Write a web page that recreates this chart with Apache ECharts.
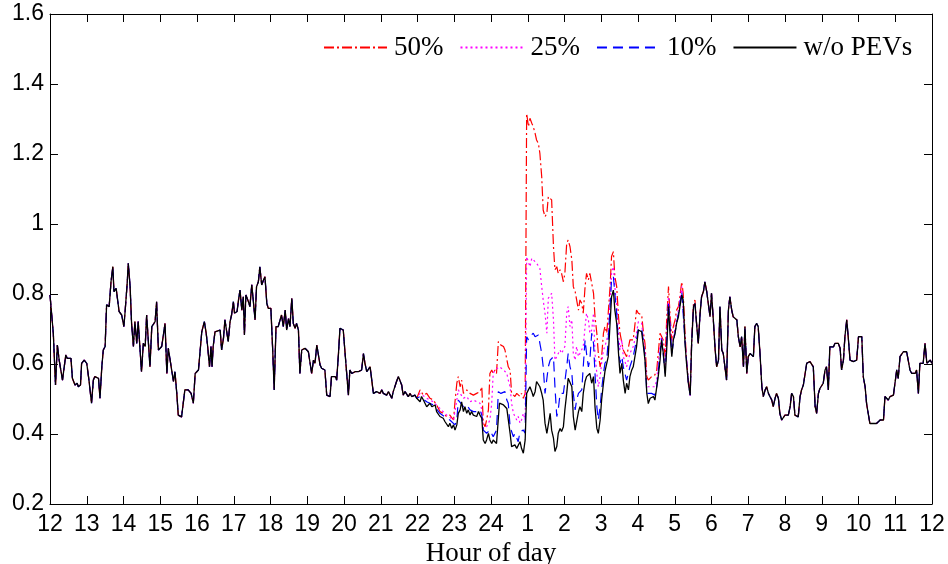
<!DOCTYPE html>
<html>
<head>
<meta charset="utf-8">
<script src="https://cdn.jsdelivr.net/npm/echarts@6/dist/echarts.min.js"></script>
<style>
html,body{margin:0;padding:0;background:#fff;}
#chart{width:948px;height:564px;}
</style>
</head>
<body>
<div id="chart"></div>
<script>
// Hour tick labels (x axis runs 0..24 hours starting at 12 noon)
var hourLabels = ['12','13','14','15','16','17','18','19','20','21','22','23','24','1','2','3','4','5','6','7','8','9','10','11','12'];
var seriesNames = ['50%','25%','10%','w/o PEVs'];

// Base load without PEVs (hours after 12:00, value)
var baseTimes = [0.00,0.09,0.15,0.20,0.25,0.30,0.34,0.38,0.43,0.47,0.52,0.57,0.61,0.68,0.74,0.77,0.83,0.86,0.93,1.00,1.06,1.13,1.18,1.22,1.32,1.36,1.41,1.45,1.50,1.54,1.61,1.66,1.71,1.74,1.80,1.84,1.88,1.95,2.01,2.04,2.10,2.13,2.18,2.22,2.27,2.31,2.36,2.40,2.45,2.49,2.54,2.59,2.63,2.68,2.72,2.77,2.81,2.86,2.90,2.95,2.99,3.04,3.08,3.13,3.18,3.22,3.27,3.31,3.36,3.40,3.45,3.49,3.58,3.63,3.67,3.72,3.76,3.84,3.90,3.95,3.99,4.04,4.08,4.13,4.20,4.25,4.29,4.34,4.38,4.41,4.44,4.49,4.54,4.63,4.67,4.72,4.76,4.81,4.85,4.90,4.94,4.99,5.02,5.05,5.09,5.13,5.17,5.22,5.26,5.29,5.33,5.40,5.44,5.49,5.53,5.58,5.62,5.67,5.71,5.76,5.81,5.85,5.90,5.94,6.01,6.06,6.10,6.15,6.21,6.26,6.30,6.35,6.40,6.44,6.49,6.53,6.58,6.62,6.67,6.71,6.76,6.80,6.85,6.89,6.94,6.98,7.03,7.08,7.12,7.17,7.21,7.26,7.30,7.35,7.39,7.44,7.48,7.53,7.57,7.62,7.66,7.71,7.76,7.80,7.85,7.89,
7.98,8.03,8.07,8.12,8.16,8.21,8.30,8.39,8.48,8.53,8.57,8.62,8.66,8.71,8.75,8.80,8.89,8.98,9.03,9.07,9.12,9.16,9.21,9.25,9.30,9.34,9.39,9.43,9.48,9.52,9.57,9.61,9.66,9.71,9.75,9.80,9.84,9.89,9.93,9.98,10.02,10.07,10.11,10.16,10.20,10.25,10.29,10.34,10.39,10.43,10.48,10.52,10.57,10.61,10.66,10.70,10.75,10.79,10.84,10.88,10.93,10.98,11.02,11.07,11.11,11.16,11.20,11.25,11.29,11.34,11.38,11.43,11.47,11.52,11.56,11.61,11.66,11.70,11.75,11.79,11.84,11.88,11.93,11.97,12.02,12.06,12.11,12.15,12.20,12.23,12.27,12.34,12.38,12.43,12.47,12.52,12.56,12.61,12.65,12.70,12.74,12.79,12.83,12.88,12.93,12.97,13.02,13.06,13.11,13.15,13.20,13.24,13.29,13.33,13.38,13.42,13.47,13.52,13.56,13.61,13.65,13.70,13.74,13.79,13.83,13.88,13.92,13.97,14.01,14.06,14.10,14.15,14.20,14.24,14.29,14.33,14.38,14.42,14.47,14.51,14.56,14.60,14.65,14.69,14.74,14.79,14.83,14.88,14.92,14.97,15.01,15.06,15.10,15.15,15.19,15.24,15.28,15.33,15.37,15.42,15.47,15.51,15.56,15.60,15.65,15.69,15.74,15.78,15.83,15.87,
15.96,16.01,16.05,16.10,16.15,16.19,16.24,16.28,16.33,16.37,16.42,16.46,16.51,16.55,16.60,16.64,16.69,16.74,16.78,16.83,16.87,16.92,16.96,17.01,17.05,17.10,17.14,17.19,17.23,17.28,17.32,17.37,17.42,17.46,17.51,17.55,17.60,17.64,17.69,17.73,17.78,17.82,17.87,17.91,17.96,18.00,18.05,18.10,18.14,18.19,18.23,18.28,18.32,18.37,18.41,18.46,18.50,18.55,18.59,18.64,18.69,18.73,18.78,18.82,18.87,18.91,18.96,19.00,19.05,19.09,19.14,19.18,19.23,19.27,19.32,19.37,19.41,19.46,19.50,19.55,19.59,19.64,19.68,19.73,19.77,19.82,19.86,19.91,19.95,20.00,20.05,20.09,20.14,20.18,20.23,20.27,20.32,20.36,20.41,20.45,20.50,20.54,20.59,20.64,20.68,20.73,20.77,20.82,20.86,20.91,20.95,21.00,21.04,21.09,21.13,21.18,21.22,21.27,21.32,21.36,21.41,21.45,21.50,21.54,21.59,21.63,21.68,21.72,21.77,21.81,21.86,21.91,21.95,22.00,22.04,22.09,22.13,22.18,22.22,22.27,22.31,22.36,22.40,22.45,22.49,22.54,22.59,22.63,22.68,22.72,22.77,22.81,22.86,22.90,22.95,22.99,23.04,23.08,23.13,23.18,23.22,23.27,23.31,23.36,23.40,23.45,23.49,23.54,23.58,23.63,23.67,23.72,23.76,23.81,23.86,23.90,23.95,24.00];
var baseLoad = [0.797,0.688,0.540,0.654,0.611,0.616,0.554,0.550,0.626,0.616,0.611,0.616,0.559,0.540,0.545,0.535,0.540,0.602,0.611,0.602,0.554,0.488,0.554,0.564,0.559,0.502,0.592,0.640,0.650,0.769,0.764,0.835,0.878,0.807,0.816,0.821,0.750,0.740,0.707,0.745,0.830,0.888,0.821,0.716,0.650,0.721,0.659,0.721,0.721,0.578,0.659,0.650,0.740,0.735,0.592,0.707,0.707,0.721,0.778,0.640,0.635,0.650,0.650,0.716,0.573,0.645,0.650,0.583,0.550,0.578,0.516,0.454,0.449,0.454,0.526,0.526,0.526,0.516,0.488,0.573,0.573,0.583,0.588,0.692,0.721,0.688,0.650,0.592,0.650,0.592,0.650,0.692,0.697,0.697,0.640,0.673,0.726,0.730,0.664,0.721,0.740,0.778,0.745,0.745,0.750,0.783,0.811,0.754,0.792,0.683,0.797,0.778,0.764,0.826,0.783,0.726,0.821,0.835,0.878,0.826,0.840,0.849,0.773,0.759,0.759,0.640,0.526,0.707,0.707,0.711,0.740,0.707,0.754,0.697,0.730,0.707,0.788,0.716,0.702,0.716,0.697,0.573,0.640,0.645,0.645,0.640,0.635,0.640,0.573,0.611,0.602,0.654,0.650,0.597,0.588,0.592,0.583,0.511,0.511,0.507,0.564,0.569,0.564,0.554,0.630,0.702,
0.697,0.630,0.626,0.511,0.583,0.573,0.578,0.578,0.583,0.630,0.602,0.578,0.578,0.592,0.559,0.516,0.521,0.516,0.526,0.516,0.521,0.511,0.521,0.516,0.502,0.521,0.516,0.550,0.564,0.559,0.540,0.511,0.521,0.516,0.507,0.516,0.507,0.502,0.511,0.502,0.507,0.492,0.507,0.497,0.497,0.478,0.483,0.488,0.478,0.473,0.483,0.464,0.469,0.450,0.454,0.445,0.435,0.435,0.421,0.431,0.416,0.426,0.411,0.426,0.459,0.469,0.492,0.464,0.478,0.459,0.469,0.454,0.464,0.454,0.459,0.450,0.464,0.454,0.445,0.383,0.373,0.383,0.402,0.383,0.373,0.383,0.378,0.373,0.378,0.488,0.483,0.483,0.478,0.473,0.469,0.402,0.364,0.359,0.369,0.359,0.354,0.378,0.359,0.345,0.383,0.516,0.516,0.535,0.521,0.507,0.521,0.550,0.550,0.535,0.516,0.497,0.431,0.402,0.402,0.459,0.411,0.388,0.350,0.364,0.402,0.416,0.407,0.421,0.469,0.516,0.559,0.564,0.535,0.450,0.411,0.411,0.464,0.478,0.464,0.516,0.550,0.564,0.559,0.573,0.545,0.564,0.478,0.416,0.402,0.440,0.497,0.545,0.578,0.573,0.621,0.716,0.792,0.811,0.754,0.716,0.630,0.573,0.602,0.554,0.516,0.545,0.526,0.564,0.583,0.592,
0.649,0.697,0.692,0.692,0.649,0.611,0.516,0.487,0.502,0.497,0.507,0.497,0.502,0.564,0.611,0.668,0.630,0.564,0.640,0.764,0.688,0.621,0.668,0.688,0.716,0.735,0.764,0.797,0.783,0.659,0.602,0.545,0.511,0.659,0.764,0.773,0.707,0.659,0.745,0.792,0.807,0.835,0.807,0.802,0.735,0.802,0.726,0.640,0.592,0.611,0.764,0.640,0.630,0.635,0.554,0.754,0.792,0.754,0.735,0.740,0.726,0.678,0.649,0.678,0.592,0.707,0.573,0.621,0.630,0.635,0.621,0.707,0.716,0.707,0.630,0.535,0.507,0.526,0.535,0.516,0.507,0.497,0.478,0.502,0.516,0.502,0.459,0.440,0.435,0.454,0.449,0.454,0.478,0.516,0.507,0.454,0.459,0.449,0.507,0.526,0.540,0.535,0.602,0.602,0.607,0.607,0.592,0.478,0.459,0.516,0.530,0.526,0.545,0.583,0.592,0.526,0.649,0.654,0.649,0.659,0.664,0.659,0.645,0.583,0.611,0.678,0.726,0.678,0.611,0.611,0.607,0.602,0.611,0.678,0.673,0.678,0.564,0.535,0.487,0.487,0.430,0.435,0.430,0.435,0.430,0.435,0.440,0.435,0.440,0.507,0.507,0.497,0.507,0.507,0.511,0.516,0.583,0.559,0.621,0.616,0.635,0.640,0.635,0.640,0.583,0.573,0.578,0.573,0.583,0.516,0.602,0.597,0.602,0.659,0.602,0.607,0.611,0.602];

// With PEVs: values differ from the base load only between ~22:00 and ~05:30
var pev50Times = [10.07,10.16,10.25,10.34,10.43,10.52,10.61,10.70,10.79,10.88,10.98,11.02,11.07,11.11,11.16,11.20,11.25,11.34,11.43,11.52,11.61,11.70,11.75,11.79,11.84,11.88,11.93,11.97,12.02,12.06,12.11,12.15,12.20,12.23,12.27,12.34,12.38,12.43,12.47,12.52,12.56,12.61,12.65,12.70,12.74,12.79,12.83,12.88,12.93,12.97,13.02,13.06,13.11,13.15,13.20,13.24,13.29,13.33,13.38,13.42,13.47,13.52,13.56,13.61,13.65,13.70,13.74,13.79,13.83,13.88,13.92,13.97,14.01,14.06,14.10,14.15,14.20,14.24,14.29,14.33,14.38,14.42,14.47,14.51,14.56,14.60,14.65,14.69,14.74,14.79,14.83,14.88,14.92,14.97,15.01,15.06,15.10,15.15,15.19,15.24,15.28,15.33,15.37,15.42,15.47,15.51,15.56,15.60,15.69,15.78,15.87,15.96,16.01,16.05,16.10,16.15,16.19,16.24,16.28,16.33,16.37,16.42,16.46,16.51,16.55,16.60,16.64,16.69,16.74,16.78,16.83,16.87,16.92,16.96,17.01,17.05,17.10,17.14,17.19,17.23,17.28,17.32,17.37,17.42,17.46,17.51,17.55];
var pev50Load = [0.526,0.511,0.516,0.502,0.497,0.483,0.464,0.459,0.450,0.454,0.440,0.492,0.545,0.564,0.535,0.554,0.516,0.526,0.516,0.511,0.516,0.521,0.535,0.431,0.421,0.440,0.469,0.573,0.583,0.573,0.583,0.573,0.664,0.669,0.654,0.650,0.640,0.645,0.592,0.583,0.516,0.516,0.507,0.516,0.511,0.507,0.516,0.502,0.516,1.316,1.278,1.302,1.288,1.278,1.259,1.240,1.230,1.202,1.135,1.040,1.021,1.031,1.078,1.083,1.069,0.935,0.869,0.878,0.859,0.869,0.859,0.835,0.859,0.945,0.954,0.935,0.897,0.821,0.807,0.783,0.754,0.783,0.773,0.745,0.821,0.859,0.840,0.859,0.859,0.802,0.735,0.688,0.630,0.592,0.621,0.688,0.707,0.688,0.745,0.821,0.907,0.921,0.850,0.821,0.735,0.688,0.688,0.640,0.621,0.669,0.669,0.754,0.745,0.749,0.740,0.688,0.659,0.564,0.554,0.559,0.564,0.559,0.569,0.583,0.630,0.688,0.692,0.668,0.621,0.726,0.821,0.745,0.668,0.707,0.726,0.754,0.764,0.792,0.835,0.802,0.688,0.611,0.554,0.516,0.668,0.773,0.783];

var pev25Times = [10.07,10.25,10.43,10.61,10.79,10.98,11.02,11.07,11.11,11.16,11.25,11.34,11.43,11.52,11.70,11.75,11.79,11.88,11.97,12.02,12.06,12.11,12.15,12.23,12.34,12.43,12.47,12.52,12.56,12.61,12.65,12.70,12.74,12.79,12.83,12.88,12.93,12.97,13.02,13.06,13.11,13.15,13.24,13.29,13.33,13.38,13.42,13.47,13.52,13.56,13.61,13.65,13.70,13.74,13.79,13.83,13.88,13.92,13.97,14.01,14.06,14.10,14.15,14.20,14.24,14.29,14.33,14.38,14.42,14.51,14.56,14.60,14.65,14.69,14.74,14.79,14.83,14.88,14.92,14.97,15.01,15.06,15.10,15.15,15.19,15.24,15.28,15.33,15.37,15.42,15.47,15.51,15.56,15.60,15.69,15.78,15.87,15.96,16.01,16.10,16.15,16.19,16.24,16.28,16.37,16.46,16.51,16.55,16.60,16.64,16.74,16.78,16.83,16.92,17.01,17.10,17.19,17.28,17.37,17.42,17.46,17.51,17.55];
var pev25Load = [0.516,0.502,0.492,0.473,0.454,0.440,0.440,0.497,0.526,0.516,0.502,0.507,0.492,0.497,0.488,0.469,0.416,0.421,0.440,0.488,0.573,0.583,0.583,0.592,0.583,0.573,0.554,0.535,0.488,0.459,0.454,0.440,0.450,0.431,0.440,0.459,0.440,0.907,0.907,0.878,0.902,0.897,0.888,0.892,0.873,0.821,0.783,0.745,0.688,0.788,0.792,0.802,0.726,0.611,0.621,0.630,0.640,0.630,0.630,0.650,0.745,0.764,0.707,0.726,0.630,0.611,0.650,0.621,0.630,0.650,0.707,0.745,0.726,0.688,0.697,0.745,0.630,0.573,0.535,0.564,0.602,0.640,0.650,0.669,0.688,0.783,0.859,0.878,0.821,0.764,0.688,0.640,0.669,0.621,0.592,0.630,0.650,0.688,0.721,0.716,0.668,0.630,0.535,0.530,0.535,0.535,0.554,0.602,0.649,0.678,0.592,0.688,0.792,0.640,0.707,0.754,0.821,0.668,0.547,0.509,0.659,0.764,0.773];

var pev10Times = [10.07,10.25,10.43,10.61,10.79,10.88,11.02,11.07,11.11,11.16,11.25,11.34,11.43,11.52,11.61,11.70,11.75,11.79,11.88,11.97,12.06,12.15,12.20,12.27,12.38,12.43,12.47,12.52,12.56,12.61,12.65,12.70,12.74,12.79,12.88,12.93,12.97,13.02,13.06,13.15,13.20,13.24,13.29,13.33,13.38,13.42,13.47,13.52,13.56,13.61,13.65,13.70,13.74,13.79,13.83,13.88,13.92,13.97,14.06,14.10,14.15,14.20,14.24,14.29,14.33,14.38,14.47,14.51,14.56,14.60,14.65,14.69,14.74,14.79,14.83,14.88,14.92,14.97,15.01,15.06,15.10,15.15,15.19,15.24,15.28,15.33,15.37,15.42,15.47,15.51,15.56,15.60,15.69,15.78,15.87,15.96,16.01,16.10,16.15,16.19,16.24,16.28,16.37,16.46,16.51,16.55,16.60,16.64,16.74,16.78,16.83,16.92,17.01,17.10,17.19,17.28,17.37,17.42,17.46,17.51,17.55];
var pev10Load = [0.507,0.492,0.483,0.459,0.445,0.440,0.426,0.440,0.497,0.502,0.478,0.483,0.469,0.464,0.464,0.469,0.454,0.411,0.402,0.411,0.392,0.411,0.521,0.516,0.521,0.497,0.488,0.421,0.407,0.392,0.402,0.402,0.378,0.407,0.411,0.402,0.678,0.669,0.678,0.688,0.678,0.673,0.683,0.659,0.630,0.592,0.516,0.516,0.592,0.611,0.616,0.621,0.535,0.450,0.469,0.516,0.516,0.516,0.592,0.630,0.592,0.573,0.516,0.469,0.497,0.516,0.526,0.592,0.669,0.630,0.592,0.611,0.688,0.659,0.573,0.478,0.440,0.478,0.526,0.573,0.602,0.611,0.669,0.764,0.840,0.850,0.802,0.745,0.650,0.602,0.621,0.592,0.554,0.592,0.621,0.669,0.702,0.702,0.659,0.621,0.516,0.511,0.516,0.511,0.535,0.578,0.630,0.673,0.573,0.659,0.778,0.630,0.692,0.745,0.807,0.664,0.545,0.511,0.659,0.764,0.773];

// Build [x, y] pairs for the library
function pairs(ts, vs) { return ts.map(function (t, i) { return [t, vs[i]]; }); }
function withBase(ts, vs) {
  var lo = ts[0], hi = ts[ts.length - 1];
  var out = [];
  baseTimes.forEach(function (t, i) { if (t < lo - 0.005) out.push([t, baseLoad[i]]); });
  out = out.concat(pairs(ts, vs));
  baseTimes.forEach(function (t, i) { if (t > hi + 0.005) out.push([t, baseLoad[i]]); });
  return out;
}

var tickFont = "'Liberation Sans',Arial,Helvetica,sans-serif";
var serifFont = "'Liberation Serif','Times New Roman',serif";

var chart = echarts.init(document.getElementById('chart'), null, {renderer: 'canvas'});

function axisCommon() {
  return {
    axisLine: {show: true, onZero: false, lineStyle: {color: '#000', width: 1}},
    axisTick: {show: true, inside: true, length: 8, lineStyle: {color: '#000', width: 1}},
    splitLine: {show: false}
  };
}

var option = {
  animation: false,
  backgroundColor: '#fff',
  grid: {left: 50, right: 16, top: 14, bottom: 60, containLabel: false, outerBoundsMode: 'none'},
  legend: {
    data: seriesNames,
    left: 318, top: 29,
    itemWidth: 63, itemHeight: 14, itemGap: 16,
    itemStyle: {opacity: 0, borderWidth: 0},
    textStyle: {fontFamily: serifFont, fontSize: 27, color: '#000', padding: [0, 0, 0, 2]}
  },
  xAxis: [
    Object.assign(axisCommon(), {
      type: 'value', min: 0, max: 24, interval: 1, position: 'bottom',
      name: 'Hour of day', nameLocation: 'middle', nameGap: 31,
      nameTextStyle: {fontFamily: serifFont, fontSize: 27, color: '#000'},
      axisLabel: {
        margin: 9, fontFamily: tickFont, fontSize: 23, color: '#000',
        formatter: function (v) { return hourLabels[Math.round(v)]; }
      }
    }),
    Object.assign(axisCommon(), {
      type: 'value', min: 0, max: 24, interval: 1, position: 'top',
      axisLabel: {show: false}
    })
  ],
  yAxis: [
    Object.assign(axisCommon(), {
      type: 'value', min: 0.2, max: 1.6, interval: 0.2, position: 'left',
      axisLabel: {
        margin: 6, fontFamily: tickFont, fontSize: 23, color: '#000',
        formatter: function (v) { return String(+v.toFixed(1)); }
      }
    }),
    Object.assign(axisCommon(), {
      type: 'value', min: 0.2, max: 1.6, interval: 0.2, position: 'right',
      axisLabel: {show: false}
    })
  ],
  series: [
    {name: seriesNames[0], type: 'line', symbol: 'none', showSymbol: false, xAxisIndex: 0, yAxisIndex: 0,
     data: withBase(pev50Times, pev50Load), color: '#ff0000',
     lineStyle: {color: '#ff0000', width: 1.2, type: [10, 3, 2, 3]}},
    {name: seriesNames[1], type: 'line', symbol: 'none', showSymbol: false, xAxisIndex: 0, yAxisIndex: 0,
     data: withBase(pev25Times, pev25Load), color: '#ff00ff',
     lineStyle: {color: '#ff00ff', width: 1.2, type: [2, 3]}},
    {name: seriesNames[2], type: 'line', symbol: 'none', showSymbol: false, xAxisIndex: 0, yAxisIndex: 0,
     data: withBase(pev10Times, pev10Load), color: '#0000ff',
     lineStyle: {color: '#0000ff', width: 1.2, type: [10, 6]}},
    {name: seriesNames[3], type: 'line', symbol: 'none', showSymbol: false, xAxisIndex: 0, yAxisIndex: 0,
     data: pairs(baseTimes, baseLoad), color: '#000000',
     lineStyle: {color: '#000000', width: 1.3, type: 'solid'}}
  ]
};
chart.setOption(option);
</script>
</body>
</html>
